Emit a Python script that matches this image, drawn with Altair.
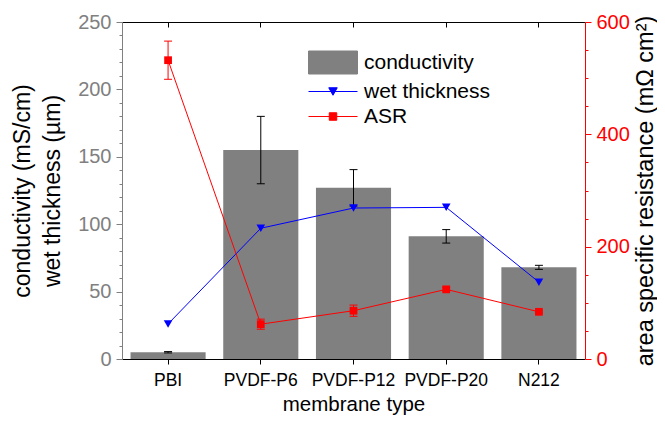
import altair as alt
import pandas as pd

membranes = ["PBI", "PVDF-P6", "PVDF-P12", "PVDF-P20", "N212"]
conductivity = [5, 155, 127, 91, 68]
conductivity_err = [0.5, 25, 13.5, 5, 1.5]
wet_thickness = [26, 97, 112, 112.5, 57]
asr = [532, 62, 86, 124, 84]
asr_err = [34, 9, 10, 3, 2]

series = ["conductivity", "wet thickness", "ASR"]
series_colors = ["#808080", "#0000ff", "#ff0000"]
legend_paths = [
    "M-1.96,-0.92H1.96V0.92H-1.96Z",
    "M-1.96,0H1.96M-0.34,-0.3H0.34L0,0.3Z",
    "M-1.96,0H1.96M-0.3,-0.3H0.3V0.3H-0.3Z",
]

df = pd.DataFrame({
    "membrane": membranes,
    "cond": conductivity,
    "cond_err": conductivity_err,
    "wet": wet_thickness,
    "asr": asr,
    "asr_err": asr_err,
})
legend_df = pd.DataFrame({"series": series})

FONT = "Liberation Sans"
LEFT_DOMAIN = [0, 250]
RIGHT_DOMAIN = [0, 600]

xscale = alt.Scale(domain=membranes, paddingInner=0.19, paddingOuter=0.092)

base = alt.Chart(df)


def xenc(axis=None):
    return alt.X("membrane:N", scale=xscale, axis=axis, sort=membranes)


bottom_axis = alt.Axis(
    orient="bottom", title="membrane type", labelAngle=0, labelFontSize=17.5,
    titleFontSize=20.5, titleFontWeight="normal", titleColor="black",
    labelColor="black", domainColor="black", tickColor="black", tickSize=5,
    labelPadding=7, titlePadding=6, grid=False,
)
top_domain_axis = alt.Axis(
    orient="top", labels=False, ticks=False, domain=True, domainColor="black",
    title=None, grid=False,
)
top_tick_axis = alt.Axis(
    orient="top", labels=False, ticks=True, tickSize=5, tickColor="black",
    domain=False, offset=-5, title=None, grid=False,
)

left_axis = alt.Axis(
    orient="left",
    values=list(range(0, 251, 10)),
    labelExpr="datum.value % 50 == 0 ? datum.label : ''",
    tickSize={"condition": {"test": "datum.value % 50 == 0", "value": 6}, "value": 3},
    title=["conductivity (mS/cm)", "wet thickness (\u00b5m)"],
    titleFontSize=23, titleFontWeight="normal", titleColor="black",
    titleLineHeight=30, titlePadding=13,
    labelFontSize=20, labelColor="#808080", domainColor="#808080",
    tickColor="#808080", labelPadding=5, grid=False, labelOverlap=False,
)
right_axis = alt.Axis(
    orient="right",
    values=list(range(0, 601, 50)),
    labelExpr="datum.value % 200 == 0 ? datum.label : ''",
    tickSize={"condition": {"test": "datum.value % 200 == 0", "value": 6}, "value": 3},
    title="area specific resistance (m\u03a9 cm\u00b2)",
    titleFontSize=23.5, titleFontWeight="normal", titleColor="black",
    titleAngle=270, titleBaseline="top", titlePadding=4, titleLimit=1000,
    labelFontSize=20, labelColor="#ff0000", domainColor="#ff0000",
    tickColor="#ff0000", labelPadding=5, grid=False, labelOverlap=False,
)

lscale = alt.Scale(domain=LEFT_DOMAIN, nice=False, zero=True)
rscale = alt.Scale(domain=RIGHT_DOMAIN, nice=False, zero=True)

bars = base.mark_bar(color="#808080").encode(
    x=xenc(bottom_axis),
    y=alt.Y("cond:Q", scale=lscale, axis=left_axis),
)

cond_err_rule = base.transform_calculate(
    lo="datum.cond - datum.cond_err", hi="datum.cond + datum.cond_err"
).mark_rule(color="black", strokeWidth=1).encode(
    x=xenc(),
    y=alt.Y("lo:Q", scale=lscale, axis=None),
    y2="hi:Q",
)
cond_err_caps = base.transform_calculate(
    lo="datum.cond - datum.cond_err", hi="datum.cond + datum.cond_err"
).transform_fold(["lo", "hi"], as_=["k", "v"]).mark_tick(
    color="black", size=8, thickness=1, opacity=1
).encode(
    x=xenc(),
    y=alt.Y("v:Q", scale=lscale, axis=None),
)

wet_line = base.mark_line(color="#0000ff", strokeWidth=1).encode(
    x=xenc(top_domain_axis),
    y=alt.Y("wet:Q", scale=lscale, axis=None),
)
wet_points = base.mark_point(
    shape="triangle-down", filled=True, color="#0000ff", size=75, opacity=1
).encode(
    x=xenc(top_tick_axis),
    y=alt.Y("wet:Q", scale=lscale, axis=None),
)

asr_line = base.mark_line(color="#ff0000", strokeWidth=1).encode(
    x=xenc(),
    y=alt.Y("asr:Q", scale=rscale, axis=right_axis),
)
asr_err_rule = base.transform_calculate(
    lo="datum.asr - datum.asr_err", hi="datum.asr + datum.asr_err"
).mark_rule(color="#ff0000", strokeWidth=1).encode(
    x=xenc(),
    y=alt.Y("lo:Q", scale=rscale, axis=None),
    y2="hi:Q",
)
asr_err_caps = base.transform_calculate(
    lo="datum.asr - datum.asr_err", hi="datum.asr + datum.asr_err"
).transform_fold(["lo", "hi"], as_=["k", "v"]).mark_tick(
    color="#ff0000", size=8, thickness=1, opacity=1
).encode(
    x=xenc(),
    y=alt.Y("v:Q", scale=rscale, axis=None),
)
asr_points = base.mark_point(
    shape="square", filled=True, color="#ff0000", size=60, opacity=1
).encode(
    x=xenc(),
    y=alt.Y("asr:Q", scale=rscale, axis=None),
)


def make_legend():
    return alt.Legend(
        orient="none", legendX=198, legendY=27.5, title=None,
        symbolSize=625, labelFontSize=21, labelOffset=18, rowPadding=2,
        padding=0, symbolStrokeWidth=1, labelColor="black", labelFont=FONT,
        symbolOpacity=1,
    )


legend_layer = alt.Chart(legend_df).transform_filter("false").mark_point(
    opacity=1, filled=True
).encode(
    shape=alt.Shape("series:N", scale=alt.Scale(domain=series, range=legend_paths), legend=make_legend()),
    fill=alt.Fill("series:N", scale=alt.Scale(domain=series, range=series_colors), legend=make_legend()),
    stroke=alt.Stroke("series:N", scale=alt.Scale(domain=series, range=series_colors), legend=make_legend()),
)

chart = alt.layer(
    bars, cond_err_rule, cond_err_caps, wet_line, wet_points,
    asr_line, asr_err_rule, asr_err_caps, asr_points, legend_layer,
).resolve_scale(
    y="independent"
).resolve_axis(
    x="independent"
).properties(
    width=463, height=337,
    autosize=alt.AutoSizeParams(type="none"),
    padding={"left": 114, "top": 14, "right": 72, "bottom": 59},
).configure(
    font=FONT
).configure_view(
    stroke=None
)

chart.save("out.html", embed_options={"renderer": "svg", "actions": False})
